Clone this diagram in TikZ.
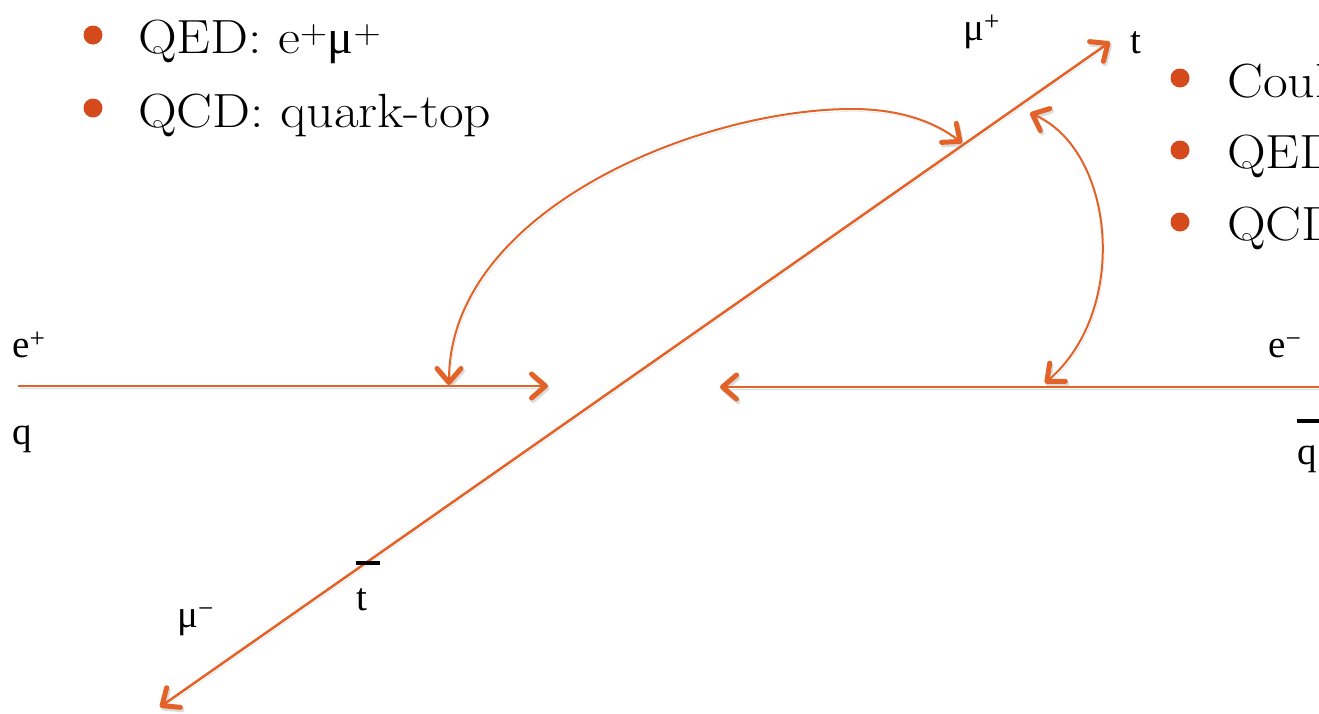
\documentclass[tikz,border=0pt]{standalone}
\usepackage{fontspec}
\usetikzlibrary{arrows.meta}
\newfontfamily\lab{Liberation Serif}
\newfontfamily\bulfont[FakeStretch=1.12]{Latin Modern Roman}
\definecolor{ln}{RGB}{226,98,40}
\definecolor{bul}{RGB}{212,74,28}
\tikzset{
 bb/.tip={Straight Barb[length=14pt,width=24pt,line width'=5pt,round]},
 shad/.style={preaction={draw=black!45,opacity=0.3,transform canvas={shift={(1.5pt,-2.5pt)}}}},
 wire/.style={draw=ln,line width=2.5pt,shad},
 bend wire/.style={draw=ln,line width=2pt,shad},
 lbl/.style={font=\lab\fontsize{39}{42}\selectfont, inner sep=0pt, anchor=base west},
 btxt/.style={font=\bulfont\fontsize{48}{52}\selectfont, inner sep=0pt, anchor=base west},
 bdot/.style={circle, fill=bul, minimum size=19pt, inner sep=0pt},
}
\begin{document}
\begin{tikzpicture}[x=1pt,y=-1pt]
\useasboundingbox (0,0) rectangle (1319,713);
\clip (0,0) rectangle (1319,713);
% bullets left
\node[bdot] (b1) at (93,35) {};
\node[btxt] (t1) at (138,53) {QED: e\textsuperscript{+}{\lab μ}\textsuperscript{+}};
\node[bdot] (b2) at (93,108) {};
\node[btxt] (t2) at (138,127) {QCD: quark-top};
% bullets right (cut by the page edge, as in the reference)
\node[bdot] (b3) at (1180,78) {};
\node[btxt] (t3) at (1227,97) {Coul};
\node[bdot] (b4) at (1180,150) {};
\node[btxt] (t4) at (1227,168) {QED};
\node[bdot] (b5) at (1180,222) {};
\node[btxt] (t5) at (1227,240) {QCD};
% end points
\coordinate (L0) at (18,386);
\coordinate (L1) at (548,386);
\coordinate (R0) at (1322,387);
\coordinate (R1) at (720,387);
\coordinate (tEnd) at (1110,42);
\coordinate (muEnd) at (160,707);
\coordinate (C1a) at (449,385);
\coordinate (C1top) at (852,109);
\coordinate (C1b) at (962,143);
\coordinate (C2a) at (1030,113);
\coordinate (C2b) at (1045,383);
% lines
\draw[wire,-bb] (L0) -- (L1);
\draw[wire,-bb] (R0) -- (R1);
\draw[wire,bb-bb] (muEnd) -- (tEnd);
\draw[bend wire,bb-bb] (C1a) .. controls (449,210) and (700,109) .. (C1top) .. controls (900,109) and (935,122) .. (C1b);
\draw[bend wire,bb-bb] (C2a) .. controls (1115,150) and (1130,310) .. (C2b);
% labels
\node[lbl] (eplus) at (12,357) {e\textsuperscript{+}};
\node[lbl] (q) at (12,444) {q};
\node[lbl] (eminus) at (1268,357) {e\textsuperscript{−}};
\node[lbl] (qbar) at (1297,464) {\rlap{\rule[41pt]{26pt}{4pt}}q};
\node[lbl] (tbar) at (356,610) {\rlap{\rule[45pt]{24pt}{4pt}}t};
\node[lbl] (muplus) at (963,40) {μ\textsuperscript{+}};
\node[lbl] (muminus) at (177,627) {μ\textsuperscript{−}};
\node[lbl] (t) at (1130,53) {t};
\end{tikzpicture}
\end{document}
